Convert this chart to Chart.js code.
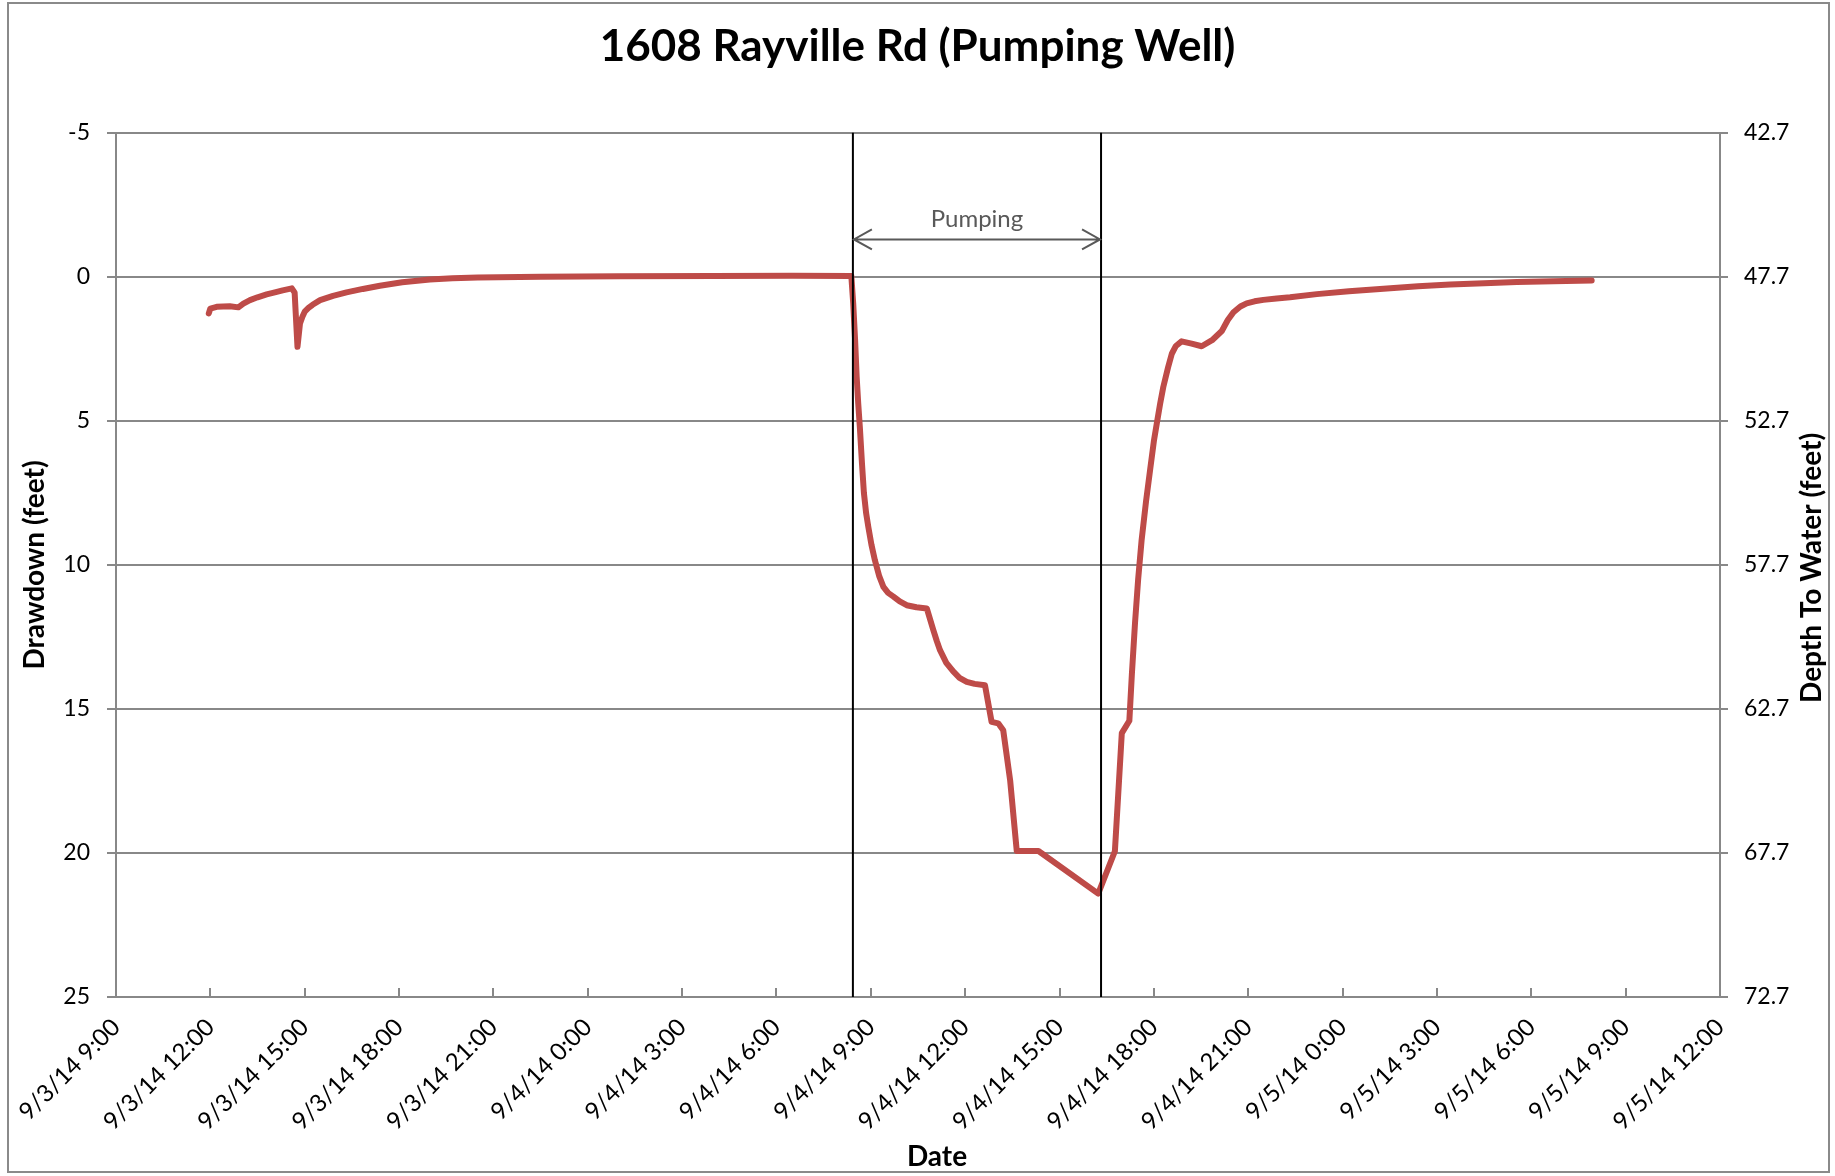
<!DOCTYPE html>
<html>
<head>
<meta charset="utf-8">
<title>1608 Rayville Rd (Pumping Well)</title>
<script src="https://cdn.jsdelivr.net/npm/chart.js@4.4.1/dist/chart.umd.min.js"></script>
<style>
  html, body { margin: 0; padding: 0; background: #fff; }
  #wrap { width: 1835px; height: 1176px; position: relative; }
</style>
</head>
<body>
<div id="wrap"><canvas id="drawdownChart"></canvas></div>
<script>
// Время в часах от 9/3/14 9:00
const hours = [
    2.95, 3.0, 3.2, 3.62, 3.89, 4.05, 4.26, 4.5, 4.79, 5.05, 5.3, 5.59, 5.68, 5.77,
    5.85, 5.93, 6.0, 6.12, 6.25, 6.49, 6.9, 7.33, 7.85, 8.39, 9.1, 9.98, 10.7, 11.5,
    13.5, 16.0, 19.0, 21.5, 23.38,
    23.44, 23.5, 23.55, 23.6, 23.65, 23.72, 23.78, 23.85, 23.92, 24.02, 24.13, 24.27, 24.4, 24.55,
    24.72, 24.92, 25.14, 25.45, 25.78,
    25.99, 26.1, 26.2, 26.4, 26.62, 26.82, 27.05, 27.3, 27.63,
    27.84, 28.05, 28.21, 28.43, 28.64, 29.33, 31.23,
    31.76, 31.98, 32.22, 32.3, 32.4, 32.5, 32.61, 32.75, 32.88, 33.0, 33.09, 33.2, 33.3, 33.45,
    33.57, 33.7, 33.88, 34.2, 34.52, 34.85, 35.16, 35.35, 35.53, 35.75, 35.95, 36.2, 36.48,
    36.9, 37.33, 38.18, 39.2, 40.3, 41.4, 42.42, 43.5, 44.54, 45.7, 46.92
];
// Понижение уровня (футы)
const drawdown = [
    1.27, 1.1, 1.04, 1.02, 1.06, 0.93, 0.81, 0.71, 0.61, 0.54, 0.47, 0.40, 0.55, 2.43,
    1.62, 1.38, 1.21, 1.08, 0.97, 0.81, 0.66, 0.54, 0.42, 0.31, 0.19, 0.09, 0.05, 0.02,
    0.0, -0.02, -0.03, -0.04, -0.03,
    0.92, 2.2, 3.47, 4.4, 5.2, 6.5, 7.5, 8.2, 8.68, 9.3, 9.84, 10.4, 10.76, 10.97,
    11.1, 11.27, 11.4, 11.47, 11.51,
    12.27, 12.65, 12.96, 13.4, 13.7, 13.92, 14.06, 14.13, 14.18,
    15.45, 15.5, 15.74, 17.48, 19.93, 19.93, 21.41,
    19.94, 15.84, 15.41, 13.8, 12.02, 10.5, 9.14, 7.8, 6.7, 5.7, 5.11, 4.4, 3.82, 3.15,
    2.67, 2.4, 2.24, 2.32, 2.41, 2.2, 1.88, 1.5, 1.23, 1.03, 0.92, 0.85, 0.8,
    0.75, 0.71, 0.6, 0.5, 0.41, 0.33, 0.27, 0.22, 0.18, 0.15, 0.13
];

const tickHours = [0, 3, 6, 9, 12, 15, 18, 21, 24, 27, 30, 33, 36, 39, 42, 45, 48, 51];
const tickLabels = [
    '9/3/14 9:00', '9/3/14 12:00', '9/3/14 15:00', '9/3/14 18:00', '9/3/14 21:00',
    '9/4/14 0:00', '9/4/14 3:00', '9/4/14 6:00', '9/4/14 9:00', '9/4/14 12:00',
    '9/4/14 15:00', '9/4/14 18:00', '9/4/14 21:00', '9/5/14 0:00', '9/5/14 3:00',
    '9/5/14 6:00', '9/5/14 9:00', '9/5/14 12:00'
];
const drawdownTicks = [-5, 0, 5, 10, 15, 20, 25];
const depthTicks = [42.7, 47.7, 52.7, 57.7, 62.7, 67.7, 72.7];

// Период откачки
const pumpStartHour = 23.43;
const pumpEndHour = 31.32;
const pumpLabelLevel = -2.0;
const pumpArrowLevel = -1.3;

const FONT = 'Lato';
const GRID = '#888888';

// Рамка вокруг всего графика
const frame = {
    id: 'frame',
    beforeDraw(chart) {
        const c = chart.ctx;
        c.save();
        c.fillStyle = '#fff';
        c.fillRect(0, 0, chart.width, chart.height);
        c.strokeStyle = '#8a8a8a';
        c.lineWidth = 2;
        c.strokeRect(8, 3, 1821, 1169);
        c.restore();
    }
};

// Вертикальные линии начала/конца откачки и стрелка
const pumping = {
    id: 'pumping',
    afterDatasetsDraw(chart) {
        const c = chart.ctx;
        const x = chart.scales.x, y = chart.scales.y;
        const area = chart.chartArea;
        const x1 = x.getPixelForValue(pumpStartHour);
        const x2 = x.getPixelForValue(pumpEndHour);
        c.save();
        c.strokeStyle = '#000';
        c.lineWidth = 2;
        [x1, x2].forEach(px => {
            c.beginPath();
            c.moveTo(px, area.top);
            c.lineTo(px, area.bottom);
            c.stroke();
        });
        const ay = y.getPixelForValue(pumpArrowLevel);
        c.strokeStyle = '#595959';
        c.beginPath();
        c.moveTo(x1 + 1, ay);
        c.lineTo(x2 - 1, ay);
        c.moveTo(x1 + 19, ay - 10);
        c.lineTo(x1 + 1, ay);
        c.lineTo(x1 + 19, ay + 10);
        c.moveTo(x2 - 19, ay - 10);
        c.lineTo(x2 - 1, ay);
        c.lineTo(x2 - 19, ay + 10);
        c.stroke();
        c.fillStyle = '#595959';
        c.font = '24px ' + FONT;
        c.textAlign = 'center';
        c.textBaseline = 'middle';
        c.fillText('Pumping', (x1 + x2) / 2, y.getPixelForValue(pumpLabelLevel));
        c.restore();
    },
    afterDraw(chart) {
        const c = chart.ctx;
        const x = chart.scales.x;
        const area = chart.chartArea;
        c.save();
        // засечки оси X внутрь области графика
        c.strokeStyle = GRID;
        c.lineWidth = 2;
        tickHours.forEach(h => {
            const px = Math.round(x.getPixelForValue(h));
            c.beginPath();
            c.moveTo(px, area.bottom);
            c.lineTo(px, area.bottom - 9);
            c.stroke();
        });
        c.fillStyle = '#000';
        c.font = 'bold 28px ' + FONT;
        c.textAlign = 'center';
        c.textBaseline = 'middle';
        // подпись оси X
        c.fillText('Date', area.left + 821, 1157);
        // подпись правой оси (снизу вверх)
        c.translate(1812, (area.top + area.bottom) / 2 + 3);
        c.rotate(-Math.PI / 2);
        c.fillText('Depth To Water (feet)', 0, 0);
        c.restore();
    }
};

let ctx = document.getElementById('drawdownChart').getContext('2d');
let drawdownChart = new Chart(ctx, {
    type: 'line',
    data: {
        datasets: [{
            label: 'Drawdown',
            data: hours.map((h, i) => ({ x: h, y: drawdown[i] })),
            borderColor: '#BE4B48',
            backgroundColor: '#BE4B48',
            borderWidth: 6,
            pointRadius: 0,
            fill: false,
            tension: 0,
            borderCapStyle: 'round',
            borderJoinStyle: 'round',
            yAxisID: 'y'
        }]
    },
    options: {
        responsive: true,
        maintainAspectRatio: false,
        animation: false,
        devicePixelRatio: 1,
        layout: { padding: 0 },
        plugins: {
            legend: { display: false },
            tooltip: { enabled: false },
            title: {
                display: true,
                text: '1608 Rayville Rd (Pumping Well)',
                color: '#000',
                font: { family: FONT, size: 44, weight: 'bold', lineHeight: 1.2 },
                padding: { top: 20, bottom: 60 }
            }
        },
        scales: {
            x: {
                type: 'linear',
                min: 0,
                max: 51,
                afterBuildTicks: s => { s.ticks = tickHours.map(v => ({ value: v })); },
                afterFit: s => { s.height = 179; },
                grid: { display: false, drawTicks: false },
                border: { display: true, color: GRID, width: 2 },
                ticks: {
                    minRotation: 45,
                    maxRotation: 45,
                    autoSkip: false,
                    padding: 16,
                    color: '#000',
                    font: { family: FONT, size: 24 },
                    callback: (v) => tickLabels[tickHours.indexOf(v)]
                }
            },
            y: {
                position: 'left',
                reverse: true,
                min: -5,
                max: 25,
                afterBuildTicks: s => { s.ticks = drawdownTicks.map(v => ({ value: v })); },
                afterFit: s => { s.width = 116; },
                grid: { color: GRID, lineWidth: 2, tickLength: 9 },
                border: { color: GRID, width: 2 },
                ticks: {
                    padding: 17,
                    color: '#000',
                    font: { family: FONT, size: 23 }
                },
                title: {
                    display: true,
                    text: 'Drawdown (feet)',
                    color: '#000',
                    font: { family: FONT, size: 28, weight: 'bold', lineHeight: 1.2 },
                    padding: { top: 18, bottom: 0 }
                }
            },
            y2: {
                position: 'right',
                reverse: true,
                min: 42.7,
                max: 72.7,
                afterBuildTicks: s => { s.ticks = depthTicks.map(v => ({ value: v })); },
                afterFit: s => { s.width = 115; },
                grid: { drawOnChartArea: false, color: GRID, lineWidth: 2, tickLength: 8 },
                border: { color: GRID, width: 2 },
                ticks: {
                    padding: 16,
                    color: '#000',
                    font: { family: FONT, size: 23 },
                    callback: v => v.toFixed(1)
                }
            }
        }
    },
    plugins: [frame, pumping]
});
</script>
</body>
</html>
